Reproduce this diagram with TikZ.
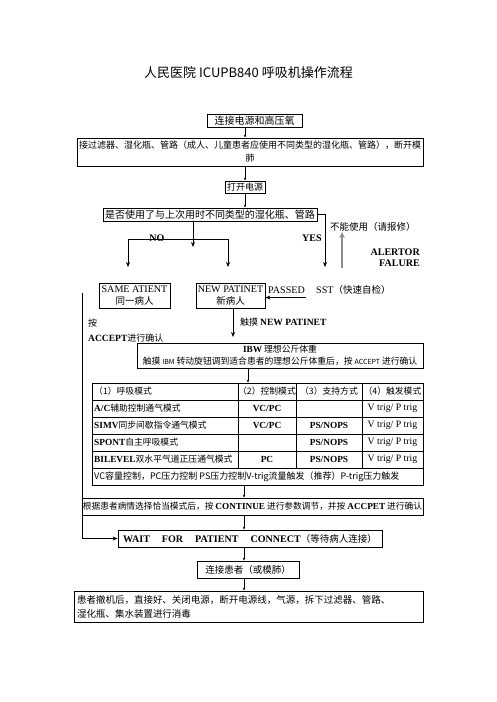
\documentclass[tikz,border=0pt]{standalone}
\usepackage{fontspec}
\setmainfont{Noto Sans CJK SC}
\newfontfamily\tm[Scale=1.06]{Liberation Serif}
\usetikzlibrary{arrows.meta}
\newcommand\fsz[1]{\fontsize{#1}{#1}\selectfont}
\tikzset{
  box/.style={draw, line width=0.8pt, inner sep=0pt, align=center},
  lbl/.style={inner sep=0pt},
  arr/.style={line width=0.8pt, -{Stealth[length=5pt,width=4pt]}},
  sarr/.style={line width=0.5pt, -{Stealth[length=3pt,width=2.4pt]}},
  garr/.style={line width=2pt, draw=black!45, -{Stealth[length=6pt,width=5.5pt]}},
  tline/.style={line width=0.7pt},
  f9/.style={font=\fontsize{9}{13}\selectfont},
}
\begin{document}
\begin{tikzpicture}[x=1pt,y=-1pt]
\fill[white] (0,0) rectangle (496,702);
\useasboundingbox (0,0) rectangle (496,702);

% title
\node[lbl, font=\fsz{13}] (title) at (248.5,73) {人民医院 ICUPB840 呼吸机操作流程};

% top chain
\node[box, font=\fsz{10}, minimum width=95pt, minimum height=13pt] (b1) at (254.5,120.5) {连接电源和高压氧};
\node[box, f9, minimum width=346pt, minimum height=28pt] (b2) at (250,152) {接过滤器、湿化瓶、管路（成人、儿童患者应使用不同类型的湿化瓶、管路），断开模\\肺};
\node[box, font=\fsz{9}, minimum width=40pt, minimum height=12pt] (b3) at (245,187) {打开电源};
\node[box, font=\fsz{10}, minimum width=214pt, minimum height=13pt] (b4) at (210,214.5) {是否使用了与上次用时不同类型的湿化瓶、管路};

\coordinate (ax) at (245,0);
\draw[sarr] (b1.south -| ax) -- (b2.north -| ax);
\draw[sarr] (b2.south -| ax) -- (b3.north);
\draw[sarr] (b3.south) -- (b4.north -| ax);

% NO branch
\coordinate (nodown) at (193,247);
\coordinate (bl) at (128,239);
\coordinate (br) at (228,239);
\coordinate (sameTip) at (128,267);
\coordinate (newTip) at (228,267);
\draw[arr] (b4.south -| nodown) -- (nodown);
\draw[arr] (br) -- (bl) -- (sameTip);
\draw[arr] (br) -- (newTip);
\node[lbl, font=\fsz{9.5}] (no) at (157,238) {\tm\bfseries NO};

% YES branch
\coordinate (yesTip) at (325,267);
\draw[arr] (b4.east) -| (yesTip);
\node[lbl, anchor=east, font=\fsz{9.5}] (yes) at (322,238) {\tm\bfseries YES};
\coordinate (failBot) at (342,268);
\coordinate (failTop) at (342,232);
\draw[garr] (failBot) -- (failTop);
\node[lbl, anchor=west, font=\fsz{9.5}] (fail) at (330,227) {不能使用（请报修）};
\node[lbl, anchor=east, align=right, font=\fontsize{9.5}{11}\selectfont] (alert) at (420,257.5) {\tm\bfseries ALERTOR\\\tm\bfseries FALURE};

% patient boxes
\node[box, font=\fontsize{9.5}{12.5}\selectfont, minimum width=71pt, minimum height=25pt] (same) at (134.5,295.5) {{\tm SAME ATIENT}\\同一病人};
\node[box, font=\fontsize{9.5}{12.5}\selectfont, minimum width=69pt, minimum height=25pt] (new) at (230.5,295.5) {{\tm NEW PATINET}\\新病人};
\node[lbl, anchor=west, font=\fsz{9.5}] (passed) at (268,290) {\tm PASSED};
\node[lbl, anchor=west, font=\fsz{9.5}] (sst) at (316,290) {{\tm SST}（快速自检）};
\coordinate (sstStart) at (306,297.5);
\draw[arr] (sstStart) -- (sstStart -| new.east);

% left labels and NEW -> IBW
\node[lbl, anchor=west, font=\fsz{9}] (an) at (88,323) {按};
\node[lbl, anchor=west, font=\fsz{9}] (acc) at (88,338) {{\tm\bfseries ACCEPT}进行确认};
\coordinate (ibwTip) at (233,337);
\draw[arr] (new.south -| ibwTip) -- (ibwTip);
\node[lbl, anchor=west, font=\fsz{9}] (touch) at (240,322) {触摸 {\tm\bfseries NEW PATINET}};

% IBW box
\node[box, font=\fontsize{8.8}{12.5}\selectfont, minimum width=286pt, minimum height=25pt] (ibw) at (280,355.5) {{\tm\bfseries IBW} 理想公斤体重\\触摸 {\fsz{7}IBM} 转动旋钮调到适合患者的理想公斤体重后，按 {\fsz{7}ACCEPT} 进行确认};

% table
\node[draw, line width=0.8pt, inner sep=0pt, minimum width=331pt, minimum height=102pt] (tbl) at (257.5,434) {};
\foreach \yy in {400,417,434,451,468} \draw[tline] (92,\yy) -- (423,\yy);
\foreach \xx in {238,296,362} \draw[tline] (\xx,383) -- (\xx,468);
\begin{scope}[every node/.style={lbl, font=\fsz{8.8}}]
\node[anchor=west] (h1) at (94,391.5) {（1）呼吸模式};
\node (h2) at (267,391.5) {（2）控制模式};
\node (h3) at (329,391.5) {（3）支持方式};
\node (h4) at (392.5,391.5) {（4）触发模式};
\node[anchor=west] (r1) at (94,408.5) {{\tm\bfseries A/C}辅助控制通气模式};
\node[anchor=west] (r2) at (94,425.5) {{\tm\bfseries SIMV}同步间歇指令通气模式};
\node[anchor=west] (r3) at (94,442.5) {{\tm\bfseries SPONT}自主呼吸模式};
\node[anchor=west] (r4) at (94,459.5) {{\tm\bfseries BILEVEL}双水平气道正压通气模式};
\node (c21) at (267,408.5) {\tm\bfseries VC/PC};
\node (c22) at (267,425.5) {\tm\bfseries VC/PC};
\node (c24) at (267,459.5) {\tm\bfseries PC};
\node (c32) at (329,425.5) {\tm\bfseries PS/NOPS};
\node (c33) at (329,442.5) {\tm\bfseries PS/NOPS};
\node (c34) at (329,459.5) {\tm\bfseries PS/NOPS};
\node[font=\fsz{9.2}] (c41) at (392.5,408.5) {\tm V trig/ P trig};
\node[font=\fsz{9.2}] (c42) at (392.5,425.5) {\tm V trig/ P trig};
\node[font=\fsz{9.2}] (c43) at (392.5,442.5) {\tm V trig/ P trig};
\node[font=\fsz{9.2}] (c44) at (392.5,459.5) {\tm V trig/ P trig};
\node[anchor=west, font=\fsz{9}] (r5) at (94,476.5) {VC容量控制，PC压力控制 PS压力控制V-trig流量触发（推荐）P-trig压力触发};
\end{scope}

% lower chain
\node[box, font=\fsz{8.7}, minimum width=341pt, minimum height=17pt] (cont) at (252.5,506.5) {根据患者病情选择恰当模式后，按 {\tm\bfseries CONTINUE} 进行参数调节，并按 {\tm\bfseries ACCPET} 进行确认};
\node[box, font=\fsz{9.5}, minimum width=264pt, minimum height=17pt] (wait) at (250,538.5) {{\tm\bfseries WAIT\hspace{12pt}FOR\hspace{12pt}PATIENT\hspace{12pt}CONNECT}（等待病人连接）};
\node[box, font=\fsz{9.5}, minimum width=102pt, minimum height=17pt] (conn) at (248,569.5) {连接患者（或模肺）};
\node[box, font=\fontsize{9.5}{14}\selectfont, minimum width=349pt, minimum height=31pt, text width=343pt, align=left] (last) at (248.5,606.5) {患者撤机后，直接好、关闭电源，断开电源线，气源，拆下过滤器、管路、\\湿化瓶、集水装置进行消毒};

\coordinate (ax2) at (248,0);
\coordinate (ax3) at (244,0);
\draw[sarr] (ibw.south -| ax2) -- (tbl.north -| ax2);
\draw[sarr] (tbl.south -| ax3) -- (cont.north -| ax3);
\draw[sarr] (cont.south -| ax3) -- (wait.north -| ax3);
\draw[sarr] (wait.south -| ax3) -- (conn.north -| ax3);
\draw[sarr] (conn.south -| ax3) -- (last.north -| ax3);

% long left connector
\coordinate (leftTop) at (82,293);
\draw[arr] (leftTop) |- (wait.west);
\end{tikzpicture}
\end{document}
